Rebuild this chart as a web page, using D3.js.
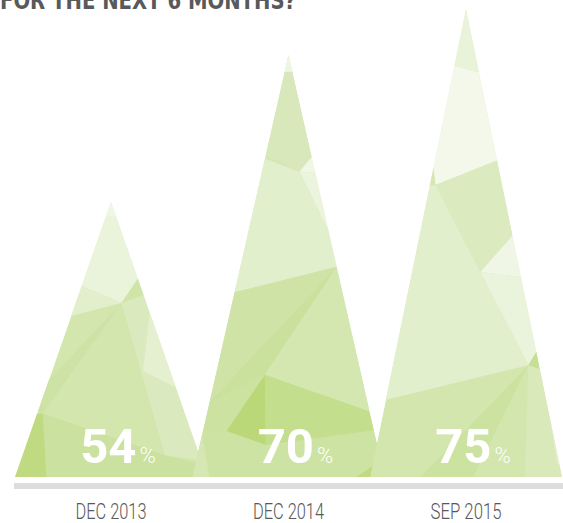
<!DOCTYPE html>
<html>
<head>
<meta charset="utf-8">
<script src="https://cdn.jsdelivr.net/npm/d3@7"></script>
<style>
  body { margin: 0; background: #fff; }
  svg { display: block; }
  .title { font-family: "Liberation Sans Narrow", "DejaVu Sans Condensed", sans-serif; font-weight: bold; fill: #58595b; }
  .cat { font-family: Roboto, "Liberation Sans Narrow", sans-serif; font-weight: 300; fill: #58595b; }
  .val { font-family: Roboto, "Liberation Sans", sans-serif; fill: #fff; }
</style>
</head>
<body>
<div id="chart"></div>
<script>
// data
const title = 'FOR THE NEXT 6 MONTHS?';
const categories = ['DEC 2013', 'DEC 2014', 'SEP 2015'];
const values = [54, 70, 75];

// low-poly facets for each peak, u = -1..1 across the base, t = 0..1 base to tip
const facets = [
  [
    {c: '#eaf4db', p: [[-1.2,0.827],[0.11,0.632],[0.28,0.72],[1.2,0.72],[1.2,1.1],[-1.2,1.1]]},
    {c: '#f0f7e6', p: [[-1,0.95],[1,0.95],[1,1.1],[-1,1.1]]},
    {c: '#cfe4a7', p: [[0.11,0.632],[0.28,0.72],[0.6,0.72],[0.6,0.66],[0.33,0.66]]},
    {c: '#e2efcc', p: [[-1.2,0.827],[0.11,0.632],[-0.415,0.585],[-1.2,0.585]]},
    {c: '#dbeabe', p: [[0.11,0.632],[0.33,0.66],[1.2,0.66],[1.2,0.05],[0.5625,0.079]]},
    {c: '#e4f0d0', p: [[0.404,0.596],[0.333,0.386],[0.675,0.325],[1.2,0.3],[1.2,0.6]]},
    {c: '#cde3a5', p: [[0.11,0.632],[-0.9,0.26],[-0.71,0.231]]},
    {c: '#cae19f', p: [[-0.71,0.231],[0.5625,0.079],[0.9,0.05],[0.9,-0.1],[-0.656,-0.1]]},
    {c: '#bfda80', p: [[-1.2,0.231],[-0.71,0.231],[-0.656,-0.1],[-1.2,-0.1]]}
  ],
  [
    {c: '#d8e8ba', p: [[-1,0.839],[0.113,0.723],[0.242,0.758],[1,0.758],[1,1.1],[-1,1.1]]},
    {c: '#eef6e3', p: [[-1,0.96],[1,0.96],[1,1.1],[-1,1.1]]},
    {c: '#f1f7e7', p: [[0.113,0.723],[0.242,0.758],[1,0.758],[1,0.72],[0.28,0.72]]},
    {c: '#ebf4dd', p: [[0.113,0.723],[0.28,0.72],[1,0.72],[1,0.59],[0.402,0.59]]},
    {c: '#e2efcd', p: [[-1.2,0.839],[0.113,0.723],[0.402,0.59],[1.2,0.59],[1.2,0.498],[0.503,0.498],[-0.556,0.438],[-1.2,0.438]]},
    {c: '#cfe3a7', p: [[0.503,0.498],[-0.83,0.175],[-1.2,0.175],[-1.2,0.438],[-0.556,0.438]]},
    {c: '#c9e19c', p: [[0.503,0.498],[-0.83,0.175],[-0.246,0.242]]},
    {c: '#d4e7b0', p: [[0.503,0.498],[-0.246,0.242],[0.841,0.156],[1.2,0.156],[1.2,0.498]]},
    {c: '#cbe2a0', p: [[-0.83,0.175],[-0.246,0.242],[-0.646,0.109],[-1.2,0.11],[-1.2,0.175]]},
    {c: '#cde3a3', p: [[-1.2,0.11],[-0.646,0.109],[-0.236,0.076],[0.895,0.111],[1.2,0.1],[1.2,-0.1],[-1.2,-0.1]]},
    {c: '#c3de8d', p: [[-0.246,0.242],[0.841,0.156],[0.895,0.111],[-0.236,0.076]]},
    {c: '#bbd879', p: [[-0.246,0.242],[-0.646,0.109],[-0.236,0.076]]},
    {c: '#d5e7b2', p: [[-0.905,0.109],[-0.749,-0.1],[-1.2,-0.1],[-1.2,0.109]]},
    {c: '#bfda80', p: [[0.708,-0.1],[0.708,0],[0.944,0.036],[1.2,0.05],[1.2,-0.1]]}
  ],
  [
    {c: '#e9f3da', p: [[-1,0.88],[-0.138,0.88],[0.128,0.865],[1,0.865],[1,1.1],[-1,1.1]]},
    {c: '#f3f8ea', p: [[-1,0.88],[-0.138,0.88],[0.128,0.865],[1,0.865],[1,0.677],[0.33,0.677],[-0.319,0.624],[-0.34,0.66],[-1,0.66]]},
    {c: '#d5e8b2', p: [[-0.34,0.66],[-0.319,0.624],[-1,0.6],[-1,0.66]]},
    {c: '#dcebbf', p: [[0.33,0.677],[-0.319,0.624],[0.149,0.438],[0.489,0.517],[1,0.517],[1,0.677]]},
    {c: '#f0f6e5', p: [[0.489,0.517],[0.149,0.438],[0.574,0.427],[1,0.427],[1,0.517]]},
    {c: '#eaf4dc', p: [[0.149,0.438],[0.574,0.427],[1,0.3],[0.74,0.27],[0.649,0.239]]},
    {c: '#c6df93', p: [[0.649,0.239],[0.74,0.27],[0.77,0.23]]},
    {c: '#e2efcd', p: [[-1.2,0.6],[-0.319,0.624],[0.649,0.239],[-0.85,0.164],[-1.2,0.164]]},
    {c: '#d9e9ba', p: [[0.649,0.239],[0.77,0.23],[1.2,0.1],[1.2,-0.1],[0.6,-0.1]]},
    {c: '#e3f0cf', p: [[0.87,0.13],[0.95,0.03],[1.2,0],[1.2,0.13]]},
    {c: '#cbe2a0', p: [[0.649,0.239],[-0.52,-0.01],[0.05,-0.01]]}
  ]
];

const w = 563;
const h = 523;
const baseY = 477;
const halfWidth = 96;

const xScale = d3.scalePoint()
                 .domain(categories)
                 .range([111, 466]);

const yScale = d3.scaleLinear()
                 .domain([24, 75])
                 .range([baseY, 9]);

const svg = d3.select('#chart')
              .append('svg')
              .attr('width', w)
              .attr('height', h);

//Title (cut off at the top, as in the original)
svg.append('text')
   .attr('class', 'title')
   .attr('x', 0)
   .attr('y', 9)
   .attr('font-size', 25)
   .attr('textLength', 296)
   .attr('lengthAdjust', 'spacingAndGlyphs')
   .text(title);

const peaks = categories.map((c, i) => ({cat: c, val: values[i], i: i}));

const defs = svg.append('defs');

peaks.forEach(d => {
  const cx = xScale(d.cat);
  const top = yScale(d.val);
  const pt = ([u, t]) => [cx + u * halfWidth, baseY - t * (baseY - top)];
  const tri = [[cx - halfWidth, baseY], [cx, top], [cx + halfWidth, baseY]];

  defs.append('clipPath')
      .attr('id', 'clip' + d.i)
      .append('polygon')
      .attr('points', tri.join(' '));

  const g = svg.append('g')
               .attr('class', 'peak')
               .attr('clip-path', `url(#clip${d.i})`);

  g.append('polygon')
   .attr('points', tri.join(' '))
   .attr('fill', '#d3e6ae');

  g.selectAll('polygon.facet')
   .data(facets[d.i])
   .enter()
   .append('polygon')
   .attr('class', 'facet')
   .attr('points', f => f.p.map(pt).join(' '))
   .attr('fill', f => f.c);
});

//Value labels
const labels = svg.selectAll('text.val')
                  .data(peaks)
                  .enter()
                  .append('text')
                  .attr('class', 'val')
                  .attr('x', d => xScale(d.cat) + 7)
                  .attr('y', 463)
                  .attr('text-anchor', 'middle');

labels.append('tspan')
      .attr('font-size', 49)
      .attr('font-weight', 'bold')
      .text(d => d.val);

labels.append('tspan')
      .attr('font-size', 22)
      .attr('font-weight', 300)
      .attr('dx', 3)
      .text('%');

//Baseline
svg.append('rect')
   .attr('x', 14)
   .attr('y', 483)
   .attr('width', w - 14)
   .attr('height', 6)
   .attr('fill', '#dcdddd');

//Category labels
svg.selectAll('text.cat')
   .data(categories)
   .enter()
   .append('text')
   .attr('class', 'cat')
   .attr('x', d => xScale(d))
   .attr('y', 519)
   .attr('text-anchor', 'middle')
   .attr('font-size', 22)
   .attr('textLength', 71)
   .attr('lengthAdjust', 'spacingAndGlyphs')
   .text(d => d);
</script>
</body>
</html>
